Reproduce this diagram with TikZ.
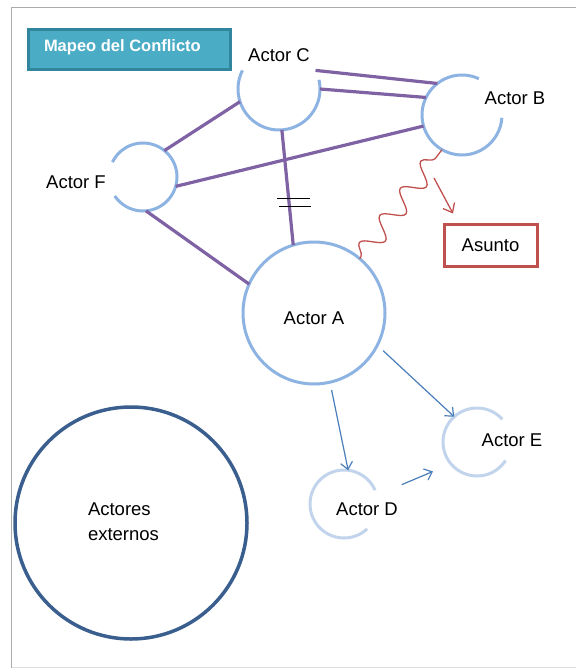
\documentclass[tikz,border=0pt]{standalone}
\usepackage{fontspec}
\setmainfont{Liberation Sans}
\usetikzlibrary{arrows.meta,decorations.pathmorphing,calc}

\definecolor{linkpurple}{HTML}{7F62A4}
\definecolor{actorblue}{HTML}{8DB3E2}
\definecolor{paleblue}{HTML}{C2D4EC}
\definecolor{darkblue}{HTML}{3A5F8F}
\definecolor{arrowblue}{HTML}{4A7EBB}
\definecolor{issuered}{HTML}{C0504D}
\definecolor{titlefill}{HTML}{4BACC6}
\definecolor{titleedge}{HTML}{31859C}
\definecolor{framegray}{HTML}{ABABAB}

\begin{document}
\begin{tikzpicture}[x=1pt,y=-1pt,
  every node/.style={font=\fontsize{18.5}{25}\selectfont, inner sep=0pt, outer sep=0pt},
  actor/.style={circle, minimum size=#1, draw=none},
  ring/.style={draw=actorblue, line width=3pt},
  palering/.style={draw=paleblue, line width=3pt},
  link/.style={draw=linkpurple, line width=3.2pt},
  flow/.style={draw=arrowblue, line width=1.2pt, -{Straight Barb[length=7pt,width=12pt]}},
  issuearrow/.style={draw=issuered, line width=1.3pt, -{Straight Barb[length=8pt,width=13pt]}},
  conflictwave/.style={draw=issuered, line width=1.3pt, decorate,
    decoration={snake, segment length=34pt, amplitude=10pt, pre length=2pt, post length=4pt}}
]
\useasboundingbox (0,0) rectangle (576,669);

% page frame
\draw[framegray, line width=1.3pt] (576,7.5) -- (11.7,7.5) -- (11.7,667.5);
\draw[framegray!40, line width=1pt] (11.7,667.5) -- (576,667.5);

% title
\node[fill=titlefill, draw=titleedge, line width=3pt,
      minimum width=202pt, minimum height=40pt] (title) at (129.5,49.5) {};
\node[anchor=west, text=white, font=\bfseries\fontsize{16.5}{20}\selectfont]
      (titletext) at (44,47) {Mapeo del Conflicto};

% actors (shape holders)
\node[actor=82pt] (C) at (279,89) {};
\node[actor=80pt] (B) at (462,115) {};
\node[actor=68pt] (F) at (143,177) {};
\node[actor=142pt] (A) at (314,313) {};
\node[actor=68pt] (E) at (477,442) {};
\node[actor=68pt] (D) at (344,504) {};
\node[circle, draw=darkblue, line width=3.5pt, minimum size=232pt] (ext) at (131,523) {};

% open rings
\draw[ring] (C.153) arc[start angle=153, end angle=373, radius=41pt];
\draw[ring] (B.65) arc[start angle=65, end angle=356, radius=40pt];
\draw[ring] (F.214) arc[start angle=214, end angle=514, radius=34pt];
\draw[ring] (A.0) arc[start angle=0, end angle=360, radius=71pt];
\draw[palering] (E.42) arc[start angle=42, end angle=327, radius=34pt];
\draw[palering] (D.24) arc[start angle=24, end angle=313, radius=34pt];

% labels
\node (Clabel) at (279,55) {Actor C};
\node (Blabel) at (515,98) {Actor B};
\node (Flabel) at (76,182) {Actor F};
\node (Alabel) at (314,318) {Actor A};
\node (Elabel) at (512,440) {Actor E};
\node (Dlabel) at (367,509) {Actor D};
\node[align=left, anchor=west] (extlabel) at (88,522) {Actores\\externos};

% issue
\node[draw=issuered, line width=3pt, minimum width=93pt, minimum height=42pt]
      (asunto) at (490.5,245.5) {Asunto};

% alliances
\draw[link] (C.27) -- (B.128);
\draw[link] (C.0) -- (B.154);
\draw[link] (F.344) -- (B.196);
\draw[link] (F.51) -- (C.198);
\draw[link] (C.274) -- (A.107);
\draw[link] (F.275) -- (A.156);

% broken link mark
\coordinate (breakmark) at (294,202);
\draw[black, line width=1pt] ($(breakmark)+(-17,-4)$) -- ($(breakmark)+(16,-4)$);
\draw[black, line width=1pt] ($(breakmark)+(-15,4)$) -- ($(breakmark)+(17,4)$);

% conflict
\draw[conflictwave] (A.50) -- (B.240);
\coordinate (issueTail) at (434,178);
\draw[issuearrow] (issueTail) -- ($(asunto.north west)+(9,-11)$);

% influence
\draw[flow, shorten <=8pt] (A.333) -- (E.132);
\draw[flow, shorten <=8pt] (A.283) -- (D.83);
\draw[flow, shorten <=27pt, shorten >=19.5pt] (D.15) -- (E.220);
\end{tikzpicture}
\end{document}
